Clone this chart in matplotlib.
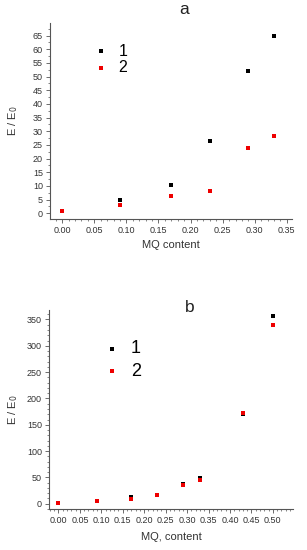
import matplotlib
matplotlib.use("Agg")
import matplotlib.pyplot as plt
from matplotlib.ticker import MultipleLocator, FormatStrFormatter

plt.rcParams['font.family'] = ['Liberation Sans', 'DejaVu Sans']

# Panel a
xa1 = [0.00, 0.09, 0.17, 0.23, 0.29, 0.33]
ya1 = [1.0, 5.0, 10.2, 26.4, 52.0, 65.0]
xa2 = [0.00, 0.09, 0.17, 0.23, 0.29, 0.33]
ya2 = [1.0, 2.9, 6.3, 8.2, 24.0, 28.4]

# Panel b
xb1 = [0.00, 0.09, 0.17, 0.23, 0.29, 0.33, 0.43, 0.50]
yb1 = [1, 5, 12, 16, 37, 49, 170, 357]
xb2 = [0.00, 0.09, 0.17, 0.23, 0.29, 0.33, 0.43, 0.50]
yb2 = [1, 5, 9, 16, 36, 46, 172, 340]

labels = ['1', '2']

fig = plt.figure(figsize=(3.07, 5.5), dpi=100)
W, H = 307, 550
ax1 = fig.add_axes([50 / W, 1 - 219 / H, (292 - 50) / W, (219 - 23) / H])
ax2 = fig.add_axes([49 / W, 1 - 509 / H, (293 - 49) / W, (509 - 310) / H])

def style(ax):
    for s in ['top', 'right']:
        ax.spines[s].set_visible(False)
    for s in ['left', 'bottom']:
        ax.spines[s].set_color('#555555')
        ax.spines[s].set_linewidth(0.8)
    ax.tick_params(which='major', direction='out', length=3, width=0.6,
                   labelsize=6.5, colors='#555555', labelcolor='#333333', pad=2)
    ax.tick_params(which='minor', direction='out', length=1.6, width=0.5,
                   colors='#555555')

# Panel a
ax1.scatter(xa1, ya1, marker='s', s=12, color='black', linewidths=0, label=labels[0], zorder=3)
ax1.scatter(xa2, ya2, marker='s', s=12, color='#ee0000', linewidths=0, label=labels[1], zorder=4)
ax1.set_xlim(-0.019, 0.358)
ax1.set_ylim(-2.1, 69.6)
ax1.xaxis.set_major_locator(MultipleLocator(0.05))
ax1.xaxis.set_minor_locator(MultipleLocator(0.01))
ax1.yaxis.set_major_locator(MultipleLocator(5))
ax1.yaxis.set_minor_locator(MultipleLocator(2.5))
ax1.xaxis.set_major_formatter(FormatStrFormatter('%.2f'))
style(ax1)
ax1.set_xlabel('MQ content', fontsize=8, color='#333333', labelpad=4)
ax1.set_ylabel('E / E$_0$', fontsize=8, color='#333333', labelpad=9)
ax1.legend(loc='upper left', bbox_to_anchor=(0.118, 0.96), frameon=False,
           fontsize=11.5, handletextpad=0.5, labelspacing=0.08, markerscale=1.0,
           handlelength=1.2, borderpad=0.3)
fig.text(184 / W, 1 - 10 / H, 'a', fontsize=12.5, ha='center', va='center', color='#222222')

# Panel b
ax2.scatter(xb1, yb1, marker='s', s=8, color='black', linewidths=0, label=labels[0], zorder=3)
ax2.scatter(xb2, yb2, marker='s', s=8, color='#ee0000', linewidths=0, label=labels[1], zorder=4)
ax2.set_xlim(-0.022, 0.547)
ax2.set_ylim(-10, 368)
ax2.xaxis.set_major_locator(MultipleLocator(0.05))
ax2.xaxis.set_minor_locator(MultipleLocator(0.01))
ax2.yaxis.set_major_locator(MultipleLocator(50))
ax2.yaxis.set_minor_locator(MultipleLocator(10))
ax2.xaxis.set_major_formatter(FormatStrFormatter('%.2f'))
style(ax2)
ax2.set_xlabel('MQ, content', fontsize=8, color='#333333', labelpad=5)
ax2.set_ylabel('E / E$_0$', fontsize=8, color='#333333', labelpad=5)
ax2.legend(loc='upper left', bbox_to_anchor=(0.155, 0.92), frameon=False,
           fontsize=13, handletextpad=0.45, labelspacing=0.3, markerscale=1.0,
           handlelength=1.2, borderpad=0.3)
fig.text(190 / W, 1 - 307 / H, 'b', fontsize=12.5, ha='center', va='center', color='#222222')

fig.savefig('out.png', dpi=100)
